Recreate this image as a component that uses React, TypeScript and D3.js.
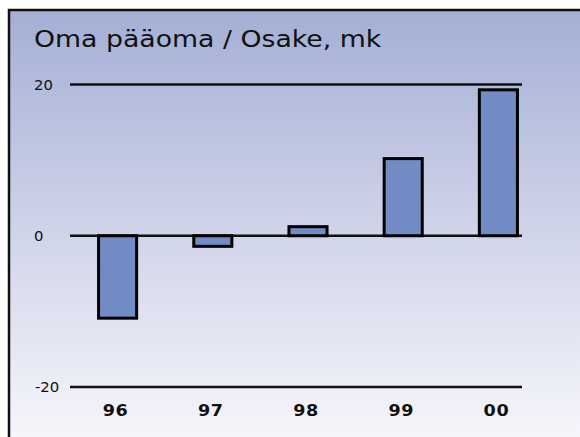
import React from "react";
import * as d3 from "d3";

const categories = ["96", "97", "98", "99", "00"];
const values = [-10.9, -1.4, 1.2, 10.2, 19.3];
const yTicks = [20, 0, -20];
const title = "Oma pääoma / Osake, mk";

const W = 580;
const H = 437;
const FONT = "DejaVu Sans, Verdana, sans-serif";

export default function App() {
  const y = d3.scaleLinear().domain([-20, 20]).range([387, 84.5]);
  const x = d3.scaleBand<string>().domain(categories).range([70, 546]).paddingInner(0.6).paddingOuter(0.3);
  const lineX1 = 70;
  const lineX2 = 522;
  return (
    <svg width={W} height={H} style={{ position: "absolute", left: 0, top: 0 }}>
      <defs>
        <linearGradient id="bg" x1="0" y1="0" x2="0" y2="1">
          <stop offset="0" stopColor="#a4afd5" />
          <stop offset="0.55" stopColor="#d6d9ec" />
          <stop offset="1" stopColor="#fbfbfe" />
        </linearGradient>
      </defs>
      <rect x={0} y={0} width={W} height={H} fill="#ffffff" />
      <rect x={9} y={10} width={W + 20} height={H + 20} fill="url(#bg)" stroke="#111" strokeWidth={2.5} />
      <text
        transform="translate(34,47) scale(1.15,1)"
        fontFamily={FONT}
        fontSize={23}
        textLength={302}
        lengthAdjust="spacingAndGlyphs"
        fill="#111"
      >
        {title}
      </text>
      {yTicks.map((t) => (
        <g key={t}>
          <line x1={lineX1} x2={lineX2} y1={y(t)} y2={y(t)} stroke="#111" strokeWidth={2.5} />
          <text
            transform={`translate(${t < 0 ? 35 : 34},${y(t) + 5}) scale(1.1,1)`}
            fontFamily={FONT}
            fontSize={13.5}
            fill="#111"
          >
            {t}
          </text>
        </g>
      ))}
      {categories.map((c, i) => {
        const v = values[i];
        const y0 = y(0);
        const yv = y(v);
        return (
          <rect
            key={c}
            x={x(c)}
            y={Math.min(y0, yv)}
            width={x.bandwidth()}
            height={Math.abs(yv - y0)}
            fill="#718bc4"
            stroke="#000"
            strokeWidth={3}
          />
        );
      })}
      {categories.map((c) => (
        <text
          key={c}
          transform={`translate(${(x(c) as number) + x.bandwidth() / 2 - 2},415.5) scale(1.1,1)`}
          textAnchor="middle"
          fontFamily={FONT}
          fontWeight="bold"
          fontSize={16}
          letterSpacing={0.5}
          fill="#111"
        >
          {c}
        </text>
      ))}
    </svg>
  );
}
